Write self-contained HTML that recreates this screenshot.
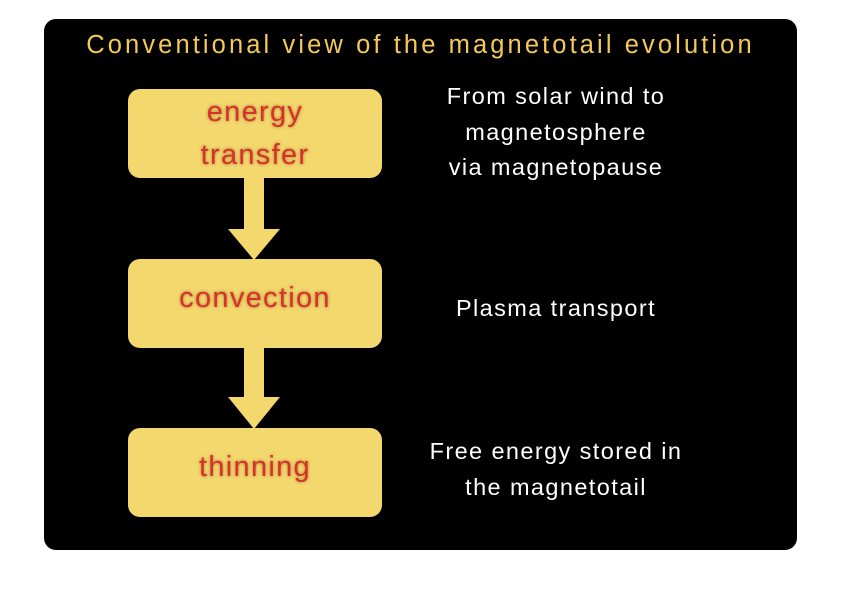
<!DOCTYPE html>
<html><head><style>
body{margin:0;width:842px;height:595px;background:#fff;position:relative;overflow:hidden;font-family:"Liberation Sans",sans-serif}
.panel{position:absolute;left:44px;top:19px;width:753px;height:531px;background:#000;border-radius:12px}
.title{position:absolute;left:44px;width:753px;top:31px;text-align:center;color:#f4c95a;font-size:25.5px;letter-spacing:3.1px;white-space:nowrap}
.box{position:absolute;left:128px;width:254px;height:89px;background:#f3d86e;border-radius:12px;color:#d8302a;font-size:29px;letter-spacing:1.3px;text-align:center;text-shadow:0 0 3px rgba(120,60,0,.6);display:flex;align-items:center;justify-content:center;line-height:43px}
.t{position:absolute;left:380px;width:352px;text-align:center;color:#fff;font-size:23.5px;letter-spacing:1.4px;line-height:35.5px;white-space:nowrap}
</style></head><body>
<div class="panel"></div>
<div class="title">Conventional view of the magnetotail evolution</div>
<svg style="position:absolute;left:0;top:0" width="842" height="595">
<polygon fill="#f3d86e" points="244,176 264,176 264,229 280,229 254,260 228,229 244,229"/>
<polygon fill="#f3d86e" points="244,346 264,346 264,397 280,397 254,429 228,397 244,397"/>
</svg>
<div class="box" style="top:89px">energy<br>transfer</div>
<div class="box" style="top:259px;align-items:flex-start;padding-top:18px;height:71px">convection</div>
<div class="box" style="top:428px;align-items:flex-start;padding-top:18px;height:71px">thinning</div>
<div class="t" style="top:79px">From solar wind to<br>magnetosphere<br>via magnetopause</div>
<div class="t" style="top:291px">Plasma transport</div>
<div class="t" style="top:434px">Free energy stored in<br>the magnetotail</div>
</body></html>
